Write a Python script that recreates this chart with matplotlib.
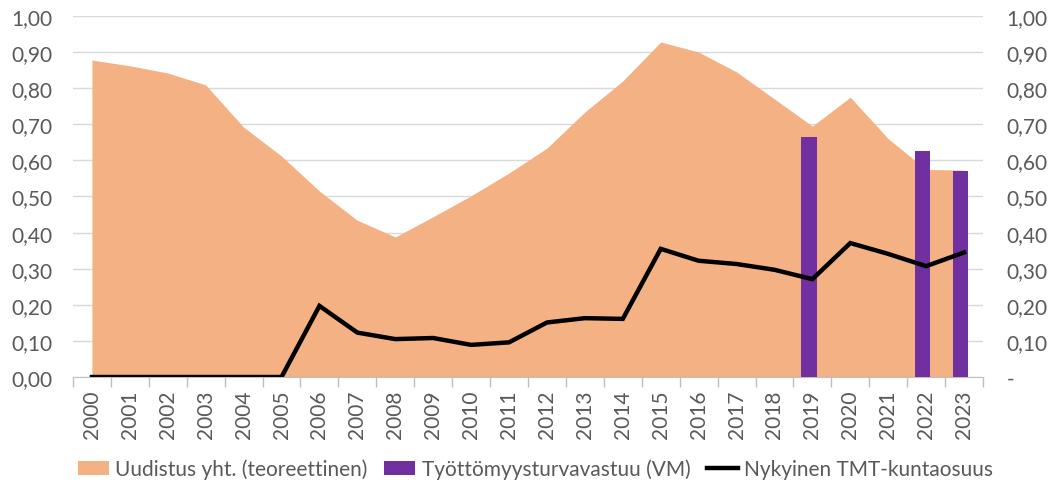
import numpy as np
import matplotlib
matplotlib.use("Agg")
import matplotlib.pyplot as plt
from matplotlib.ticker import FuncFormatter

plt.rcParams['font.family'] = ['Lato', 'DejaVu Sans']

years = list(range(2000, 2024))
uudistus = [0.878, 0.862, 0.842, 0.809, 0.692, 0.612, 0.515, 0.434, 0.388, 0.444,
            0.502, 0.565, 0.634, 0.734, 0.820, 0.928, 0.900, 0.845, 0.770, 0.695,
            0.775, 0.660, 0.575, 0.573]
tmt_osuus = [0.0, 0.0, 0.0, 0.0, 0.0, 0.0, 0.197, 0.123, 0.105, 0.108,
             0.089, 0.096, 0.151, 0.163, 0.161, 0.355, 0.322, 0.313, 0.297, 0.271,
             0.371, 0.341, 0.307, 0.345]
vm_years = [2019, 2022, 2023]
vm_values = [0.665, 0.626, 0.571]

orange = '#F4B183'
purple = '#7030A0'
gray_txt = '#595959'

fig = plt.figure(figsize=(10.5, 4.85), dpi=100)
ax = fig.add_axes([0.0695, 0.2206, 0.8667, 0.7444])

x = np.arange(len(years))
area = ax.fill_between(x, 0, uudistus, color=orange, linewidth=0, zorder=2,
                       label='Uudistus yht. (teoreettinen)')
bx = [years.index(y) - 0.09 for y in vm_years]
bars = ax.bar(bx, vm_values, width=0.4, color=purple, zorder=3,
              label='Työttömyysturvavastuu (VM)')
line, = ax.plot(x, tmt_osuus, color='black', linewidth=3.2, zorder=4,
                solid_joinstyle='miter', label='Nykyinen TMT-kuntaosuus')

ax.set_xlim(-0.5, len(years) - 0.5)
ax.set_ylim(0, 1.0)
ax.set_yticks(np.arange(0, 1.01, 0.1))
ax.yaxis.set_major_formatter(FuncFormatter(lambda v, p: f'{v:.2f}'.replace('.', ',')))
ax.grid(axis='y', color='#D9D9D9', linewidth=1.0, zorder=0)
ax.set_axisbelow(True)

ax.set_xticks(x)
ax.set_xticklabels([str(y) for y in years], rotation=90)
ax.set_xticks(np.arange(-0.5, len(years)), minor=True)
ax.tick_params(axis='x', which='major', length=0, pad=9, labelsize=15, labelcolor=gray_txt)
ax.tick_params(axis='x', which='minor', length=7, color='#BFBFBF', width=1)
ax.tick_params(axis='y', length=0, pad=15, labelsize=15, labelcolor=gray_txt)

for s in ['top', 'right', 'left']:
    ax.spines[s].set_visible(False)
ax.spines['bottom'].set_color('#BFBFBF')

ax2 = ax.twinx()
ax2.set_ylim(0, 1.0)
ax2.set_yticks(np.arange(0, 1.01, 0.1))
ax2.yaxis.set_major_formatter(FuncFormatter(
    lambda v, p: '-' if abs(v) < 1e-9 else f'{v:.2f}'.replace('.', ',')))
ax2.tick_params(axis='y', length=0, pad=17, labelsize=15, labelcolor=gray_txt)
for s in ax2.spines.values():
    s.set_visible(False)

fig.legend([area, bars, line],
           ['Uudistus yht. (teoreettinen)', 'Työttömyysturvavastuu (VM)',
            'Nykyinen TMT-kuntaosuus'],
           loc='center', bbox_to_anchor=(0.51, 0.031), ncol=3,
           frameon=False, fontsize=15, handlelength=1.5, handletextpad=0.3,
           columnspacing=0.8, labelcolor=gray_txt)

fig.savefig('out.png', dpi=100)
